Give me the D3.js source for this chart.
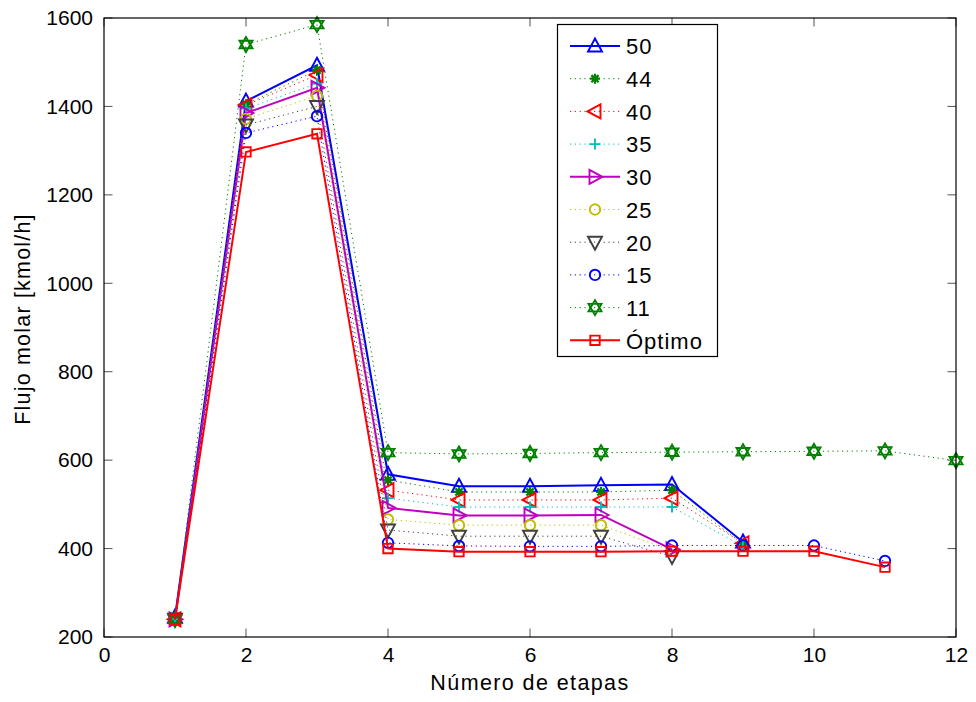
<!DOCTYPE html>
<html><head><meta charset="utf-8">
<script src="https://cdn.jsdelivr.net/npm/d3@7"></script>
<style>body{margin:0;background:#fff}svg{display:block}text{font-family:"Liberation Sans",Arial,sans-serif}</style>
</head><body>
<script>
const stages = [1,2,3,4,5,6,7,8,9,10,11,12];
const seriesNames = ["50","44","40","35","30","25","20","15","11","Óptimo"];
const s50 = [245,1412,1493,568,541,541,543,545,415];
const s44 = [240,1405,1482,555,528,528,528,532,410];
const s40 = [240,1403,1471,532,510,510,510,514,412];
const s35 = [240,1395,1452,514,494,494,494,494,405];
const s30 = [240,1385,1442,492,475,475,476,398];
const s25 = [240,1372,1424,466,453,453,453,395];
const s20 = [240,1358,1400,442,428,428,428,382];
const s15 = [240,1340,1378,413,406,405,405,407,407,407,372];
const s11 = [240,1540,1585,617,614,615,617,618,619,620,621,599];
const sOpt = [240,1297,1338,400,393,393,393,394,394,394,358];
const xTicks = [0,2,4,6,8,10,12];
const yTicks = [200,400,600,800,1000,1200,1400,1600];

const styles = [
 {c:"#0000ff", dash:null, w:2, m:"triUp"},
 {c:"#008000", dash:"1.2,3.6", w:1, m:"asterisk"},
 {c:"#ff0000", dash:"1.2,3.6", w:1, m:"triLeft"},
 {c:"#00bfbf", dash:"1.2,3.6", w:1, m:"plus"},
 {c:"#bf00bf", dash:null, w:2, m:"triRight"},
 {c:"#bfbf00", dash:"1.2,3.6", w:1, m:"circle"},
 {c:"#404040", dash:"1.2,3.6", w:1, m:"triDown"},
 {c:"#0000ff", dash:"1.2,3.6", w:1, m:"circle"},
 {c:"#008000", dash:"1.2,3.6", w:1, m:"hexagram"},
 {c:"#ff0000", dash:null, w:2, m:"square"}
];
const allData = [s50,s44,s40,s35,s30,s25,s20,s15,s11,sOpt];

const W=976,H=702;
const svg = d3.select("body").append("svg").attr("width",W).attr("height",H);
const x = d3.scaleLinear().domain([0,12]).range([104,956]);
const y = d3.scaleLinear().domain([200,1600]).range([637,18]);

function markerPath(type){
  switch(type){
    case "triUp": return "M0,-7.5L7,5.5L-7,5.5Z";
    case "triDown": return "M0,7.5L7,-5.5L-7,-5.5Z";
    case "triLeft": return "M-7.5,0L5.5,-7L5.5,7Z";
    case "triRight": return "M7.5,0L-5.5,-7L-5.5,7Z";
    case "circle": return "M5.2,0A5.2,5.2 0 1,1 -5.2,0A5.2,5.2 0 1,1 5.2,0Z";
    case "square": return "M-4.7,-4.7H4.7V4.7H-4.7Z";
    case "plus": return "M-5.5,0H5.5M0,-5.5V5.5";
    case "asterisk": return "M-5,0H5M0,-5V5M-3.6,-3.6L3.6,3.6M-3.6,3.6L3.6,-3.6";
    case "hexagram": {
      const r=7.5; const p=(a)=>[r*Math.sin(a),-r*Math.cos(a)];
      const t1=[0,2,4].map(i=>p(i*Math.PI*2/3));
      const t2=[0,2,4].map(i=>p(Math.PI+i*Math.PI*2/3));
      return "M"+t1.join("L")+"Z M"+t2.join("L")+"Z";
    }
  }
}

const g = svg.append("g");
g.append("rect").attr("x",104).attr("y",18).attr("width",852).attr("height",619).attr("fill","#fff");

const xAxisB = d3.axisBottom(x).tickValues(xTicks).tickSize(0).tickPadding(10).tickFormat(d3.format("d"));
const yAxisL = d3.axisLeft(y).tickValues(yTicks).tickSize(0).tickPadding(11).tickFormat(d3.format("d"));
const tk = g.append("g").attr("stroke","#555").attr("stroke-width",1);
xTicks.forEach(t=>{
  tk.append("line").attr("x1",x(t)).attr("x2",x(t)).attr("y1",637).attr("y2",628.5);
  tk.append("line").attr("x1",x(t)).attr("x2",x(t)).attr("y1",18).attr("y2",26.5);
});
yTicks.forEach(t=>{
  tk.append("line").attr("x1",104).attr("x2",112.5).attr("y1",y(t)).attr("y2",y(t));
  tk.append("line").attr("x1",956).attr("x2",947.5).attr("y1",y(t)).attr("y2",y(t));
});

const line = d3.line().x((d,i)=>x(stages[i])).y(d=>y(d));
allData.forEach((data,k)=>{
  const st = styles[k];
  const sg = svg.append("g");
  sg.append("path").attr("d",line(data)).attr("fill","none").attr("stroke",st.c)
    .attr("stroke-width",st.w).attr("stroke-dasharray",st.dash);
  sg.selectAll("path.m").data(data).enter().append("path").attr("class","m")
    .attr("d",markerPath(st.m))
    .attr("transform",(d,i)=>`translate(${x(stages[i])},${y(d)})`)
    .attr("fill","none").attr("stroke",st.c).attr("stroke-width",st.m==="asterisk"?2.2:1.9);
});

svg.append("rect").attr("x",104).attr("y",18).attr("width",852).attr("height",619)
  .attr("fill","none").attr("stroke","#000").attr("stroke-width",1.2);

const gx = svg.append("g").attr("transform","translate(0,637)").call(xAxisB);
gx.select(".domain").remove();
gx.selectAll("text").attr("font-size",21).attr("fill","#000").attr("font-family","Liberation Sans, Arial, sans-serif");
const gy = svg.append("g").attr("transform","translate(104,0)").call(yAxisL);
gy.select(".domain").remove();
gy.selectAll("text").attr("font-size",21).attr("fill","#000").attr("font-family","Liberation Sans, Arial, sans-serif");

svg.append("text").attr("x",530).attr("y",690).attr("text-anchor","middle")
  .attr("font-size",21.5).attr("letter-spacing",1.4).text("Número de etapas");
svg.append("text").attr("transform","translate(30,319) rotate(-90)").attr("text-anchor","middle")
  .attr("font-size",21.5).attr("letter-spacing",1.2).text("Flujo molar [kmol/h]");

const lg = svg.append("g");
lg.append("rect").attr("x",557.5).attr("y",24.5).attr("width",160).attr("height",332)
  .attr("fill","#fff").attr("stroke","#000").attr("stroke-width",1.2);
seriesNames.forEach((name,k)=>{
  const st = styles[k];
  const yy = 46 + k*32.7;
  lg.append("line").attr("x1",570).attr("x2",620).attr("y1",yy).attr("y2",yy)
    .attr("stroke",st.c).attr("stroke-width",st.w).attr("stroke-dasharray",st.dash);
  lg.append("path").attr("d",markerPath(st.m)).attr("transform",`translate(595,${yy})`)
    .attr("fill","none").attr("stroke",st.c).attr("stroke-width",st.m==="asterisk"?2.2:1.9);
  lg.append("text").attr("x",626).attr("y",yy+8.3).attr("font-size",22).attr("letter-spacing",1).text(name);
});
</script>
</body></html>
